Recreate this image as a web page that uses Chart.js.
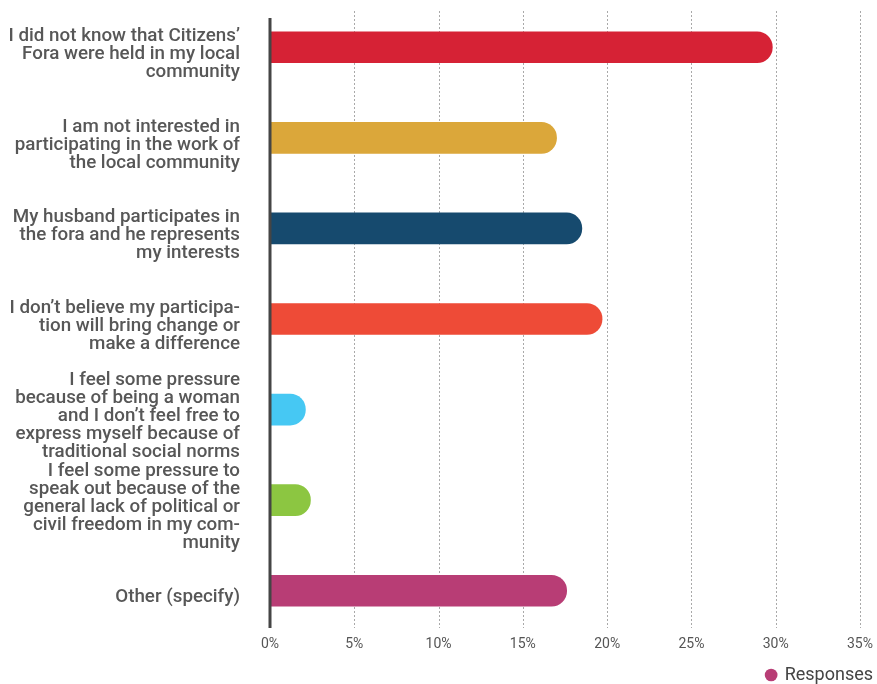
<!DOCTYPE html>
<html>
<head>
<meta charset="utf-8">
<script src="https://cdn.jsdelivr.net/npm/chart.js@4/dist/chart.umd.min.js"></script>
<style>
  html, body { margin: 0; padding: 0; background: #ffffff; }
  #wrap { width: 877px; height: 684px; }
</style>
</head>
<body>
<div id="wrap"><canvas id="chart" width="877" height="684"></canvas></div>
<script>
// Survey answers (multi-line labels, one array per answer)
const categories = [
  ["I did not know that Citizens’", "Fora were held in my local", "community"],
  ["I am not interested in", "participating in the work of", "the local community"],
  ["My husband participates in", "the fora and he represents", "my interests"],
  ["I don’t believe my participa-", "tion will bring change or", "make a difference"],
  ["I feel some pressure", "because of being a woman", "and I don’t feel free to", "express myself because of", "traditional social norms"],
  ["I feel some pressure to", "speak out because of the", "general lack of political or", "civil freedom in my com-", "munity"],
  ["Other (specify)"]
];

// Share of respondents, in percent
const responses = [29.8, 17.0, 18.5, 19.7, 2.1, 2.4, 17.6];

const barColors = ["#D62235", "#DBA73A", "#164A6E", "#EE4B37", "#46C8F3", "#8CC641", "#B83D75"];

const seriesName = "Responses";
const legendColor = "#B83D75";

// Percentage axis ticks
const xTicks = [0, 5, 10, 15, 20, 25, 30, 35];

// Dotted vertical guides behind the bars and a solid baseline in front of them
const framePlugin = {
  id: 'frame',
  beforeDatasetsDraw(chart) {
    const { ctx, chartArea, scales: { x } } = chart;
    ctx.save();
    ctx.strokeStyle = '#a9a9a9';
    ctx.lineWidth = 1;
    ctx.setLineDash([2, 2]);
    x.ticks.forEach(t => {
      if (t.value === 0) return;
      const px = Math.round(x.getPixelForValue(t.value)) + 0.5;
      ctx.beginPath();
      ctx.moveTo(px, chartArea.top + 9);
      ctx.lineTo(px, chartArea.bottom - 8);
      ctx.stroke();
    });
    ctx.restore();
  },
  afterDatasetsDraw(chart) {
    const { ctx, chartArea, scales: { x } } = chart;
    const px = x.getPixelForValue(0);
    ctx.save();
    ctx.strokeStyle = '#454545';
    ctx.lineWidth = 3;
    ctx.beginPath();
    ctx.moveTo(px, chartArea.top + 16);
    ctx.lineTo(px, chartArea.bottom - 8);
    ctx.stroke();
    ctx.restore();
  }
};

new Chart(document.getElementById('chart'), {
  type: 'bar',
  data: {
    labels: categories,
    datasets: [{
      label: seriesName,
      data: responses,
      backgroundColor: barColors,
      borderWidth: 0,
      borderRadius: 16,
      borderSkipped: 'start',
      barThickness: 31
    }]
  },
  options: {
    indexAxis: 'y',
    responsive: false,
    animation: false,
    devicePixelRatio: 1,
    layout: { padding: { top: 2, right: 4, bottom: -10, left: 0 } },
    scales: {
      x: {
        type: 'linear',
        min: xTicks[0],
        max: xTicks[xTicks.length - 1],
        grid: { display: false, drawTicks: false },
        border: { display: false },
        ticks: {
          stepSize: xTicks[1] - xTicks[0],
          padding: 0,
          color: '#555555',
          font: { family: 'Roboto', size: 14, weight: '400' },
          callback: v => v + '%'
        },
        afterFit(scale) {
          scale.height = 30;
          scale.paddingRight = 17;
        }
      },
      y: {
        type: 'category',
        grid: { display: false, drawTicks: false },
        border: { display: false },
        ticks: {
          autoSkip: false,
          padding: 30,
          labelOffset: 7,
          color: '#575757',
          font: { family: 'Roboto', size: 18.8, weight: '500', lineHeight: 0.957 }
        },
        afterFit(scale) {
          scale.width = 270;
          scale.paddingTop = 0;
          scale.paddingBottom = 0;
        }
      }
    },
    plugins: {
      tooltip: { enabled: false },
      legend: {
        display: true,
        position: 'bottom',
        align: 'end',
        labels: {
          usePointStyle: true,
          pointStyle: 'circle',
          boxWidth: 9,
          boxHeight: 9,
          padding: 0,
          color: '#444444',
          font: { family: 'Roboto', size: 18, weight: '400' },
          generateLabels(chart) {
            const items = Chart.defaults.plugins.legend.labels.generateLabels(chart);
            items.forEach(it => {
              it.fillStyle = legendColor;
              it.strokeStyle = legendColor;
              it.lineWidth = 0;
            });
            return items;
          }
        }
      }
    }
  },
  plugins: [framePlugin]
});
</script>
</body>
</html>
